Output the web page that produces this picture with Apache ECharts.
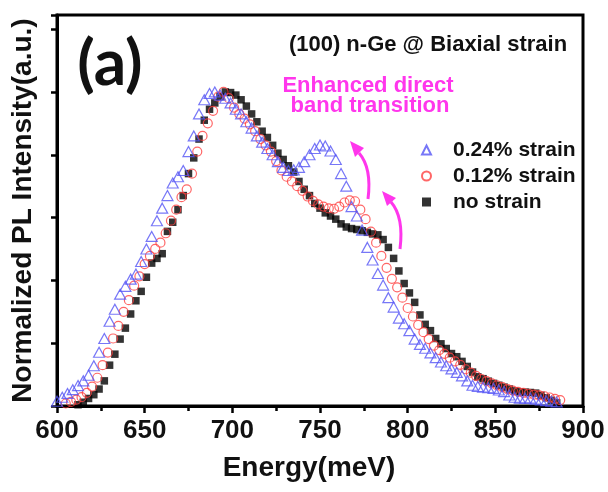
<!DOCTYPE html>
<html>
<head>
<meta charset="utf-8">
<script src="https://cdn.jsdelivr.net/npm/echarts@6/dist/echarts.min.js"></script>
<style>
html,body{margin:0;padding:0;background:#fff;}
#chart{width:608px;height:492px;}
</style>
</head>
<body>
<div id="chart"></div>
<script>
// ---------- data (Energy in meV, normalized PL intensity) ----------
var xTicks = [600, 650, 700, 750, 800, 850, 900];
var seriesNames = ['0.24% strain', '0.12% strain', 'no strain'];

var energyNoStrain = [612,615,618,621,624,627,630,633,636,639,642,645,648,651,654,657,660,663,666,669,672,675,678,681,684,687,690,693,696,699,702,705,708,711,714,717,720,723,726,729,732,735,738,741,744,747,750,753,756,759,762,765,768,771,774,777,780,783,786,789,792,795,798,801,804,807,810,813,816,819,822,825,828,831,834,837,840,843,846,849,852,855,858,861,864,867,870,873,876,879,882,885];
var intensityNoStrain = [0.004,0.012,0.024,0.036,0.054,0.08,0.13,0.165,0.213,0.248,0.293,0.335,0.365,0.41,0.455,0.47,0.485,0.556,0.585,0.625,0.67,0.74,0.79,0.85,0.91,0.945,0.965,0.985,1.0,0.998,0.99,0.975,0.955,0.93,0.905,0.875,0.855,0.83,0.805,0.785,0.765,0.745,0.715,0.69,0.67,0.645,0.63,0.615,0.605,0.595,0.58,0.57,0.565,0.562,0.558,0.553,0.548,0.545,0.53,0.505,0.47,0.43,0.39,0.36,0.33,0.29,0.26,0.24,0.215,0.198,0.183,0.167,0.157,0.142,0.126,0.108,0.093,0.087,0.079,0.072,0.066,0.06,0.054,0.048,0.045,0.044,0.043,0.041,0.034,0.026,0.018,0.01];

var energy012 = [605,608,611,614,617,620,623,626,629,632,635,638,641,644,647,650,653,656,659,662,665,668,671,674,677,680,683,686,689,692,695,698,701,704,707,710,713,716,719,722,725,728,731,734,737,740,743,746,749,752,755,758,761,764,767,770,773,776,779,782,785,788,791,794,797,800,803,806,809,812,815,818,821,824,827,830,833,836,839,842,845,848,851,854,857,860,863,866,869,872,875,878,881,884,887];
var intensity012 = [0.008,0.013,0.02,0.028,0.042,0.062,0.09,0.13,0.17,0.215,0.255,0.3,0.337,0.383,0.413,0.452,0.478,0.5,0.52,0.55,0.59,0.625,0.665,0.69,0.74,0.81,0.86,0.9,0.94,0.985,1.0,0.98,0.95,0.93,0.915,0.897,0.875,0.85,0.83,0.81,0.78,0.75,0.73,0.715,0.7,0.685,0.667,0.653,0.642,0.635,0.629,0.628,0.635,0.648,0.655,0.652,0.625,0.595,0.555,0.52,0.478,0.44,0.405,0.378,0.345,0.312,0.285,0.258,0.235,0.213,0.192,0.178,0.166,0.154,0.142,0.131,0.117,0.106,0.096,0.086,0.079,0.072,0.066,0.06,0.054,0.049,0.045,0.042,0.039,0.036,0.034,0.031,0.027,0.023,0.019];

var energy024 = [600,603,606,609,612,615,618,621,624,627,630,633,636,639,642,645,648,651,654,657,660,663,666,669,672,675,678,681,684,687,690,693,696,699,702,705,708,711,714,717,720,723,726,729,732,735,738,741,744,747,750,753,756,759,762,765,768,771,774,777,780,783,786,789,792,795,798,801,804,807,810,813,816,819,822,825,828,831,834,837,840,843,846,849,852,855,858,861,864,867,870,873,876,879,882,885];
var intensity024 = [0.015,0.028,0.04,0.052,0.065,0.08,0.098,0.128,0.171,0.215,0.27,0.308,0.356,0.381,0.404,0.42,0.46,0.5,0.54,0.59,0.63,0.67,0.71,0.73,0.75,0.81,0.86,0.93,0.975,0.995,1.0,0.99,0.98,0.965,0.945,0.93,0.905,0.885,0.86,0.84,0.82,0.8,0.778,0.76,0.75,0.752,0.76,0.778,0.8,0.82,0.831,0.828,0.812,0.785,0.74,0.7,0.635,0.605,0.56,0.505,0.465,0.422,0.385,0.345,0.315,0.28,0.262,0.24,0.213,0.196,0.184,0.169,0.154,0.14,0.128,0.118,0.107,0.096,0.08,0.066,0.062,0.06,0.058,0.056,0.051,0.046,0.035,0.028,0.025,0.025,0.025,0.022,0.019,0.017,0.015,0.013];

function zip(xs, ys){ var out=[]; for(var i=0;i<xs.length;i++){ out.push([xs[i], ys[i]]); } return out; }

var chart = echarts.init(document.getElementById('chart'), null, {renderer:'canvas'});
var F = '"Liberation Sans", Arial, sans-serif';
var MAG = '#ff36ec';

var option = {
  animation: false,
  backgroundColor: '#ffffff',
  grid: { left: 57, right: 25, top: 15, bottom: 86, show: true, borderColor: '#000', borderWidth: 3, backgroundColor: 'transparent' },
  xAxis: {
    type: 'value', min: xTicks[0], max: xTicks[xTicks.length-1], interval: 50,
    name: 'Energy(meV)', nameLocation: 'middle', nameGap: 48,
    nameTextStyle: { fontFamily: F, fontWeight: 'bold', fontSize: 28, color: '#111', padding: [0, 22, 0, 0] },
    axisLine: { lineStyle: { color: '#000', width: 3 } },
    axisTick: { show: true, inside: false, length: 7, lineStyle: { color: '#000', width: 2.5 } },
    minorTick: { show: true, splitNumber: 2, length: 5, lineStyle: { color: '#000', width: 2.5 } },
    axisLabel: { fontFamily: F, fontWeight: 'bold', fontSize: 26, color: '#111', margin: 12 },
    splitLine: { show: false }
  },
  yAxis: {
    type: 'value', min: 0, max: 1.245, interval: 0.2,
    name: 'Normalized PL Intensity(a.u.)', nameLocation: 'middle', nameGap: 20,
    nameTextStyle: { fontFamily: F, fontWeight: 'bold', fontSize: 28, color: '#111' },
    axisLine: { lineStyle: { color: '#000', width: 3 } },
    axisTick: { show: true, inside: false, length: 6, lineStyle: { color: '#000', width: 2.5 } },
    axisLabel: { show: false },
    splitLine: { show: false }
  },
  legend: {
    orient: 'vertical', left: 416, top: 132, itemGap: 0,
    itemWidth: 9, itemHeight: 9,
    data: seriesNames,
    textStyle: { fontFamily: F, fontWeight: 'bold', fontSize: 21, color: '#111', lineHeight: 26, padding: [0, 0, 0, 17] }
  },
  series: [
    { name: seriesNames[2], type: 'scatter', symbol: 'rect', symbolSize: 7.5, z: 2,
      itemStyle: { color: '#000' }, data: zip(energyNoStrain, intensityNoStrain) },
    { name: seriesNames[1], type: 'scatter', symbol: 'circle', symbolSize: 9, z: 3,
      itemStyle: { color: 'rgba(255,255,255,0)', borderColor: '#ff4040', borderWidth: 1.2 }, data: zip(energy012, intensity012) },
    { name: seriesNames[0], type: 'scatter', symbol: 'triangle', symbolSize: [11, 10], z: 4,
      itemStyle: { color: 'rgba(255,255,255,0)', borderColor: '#5555f5', borderWidth: 1.2 }, data: zip(energy024, intensity024) }
  ],
  graphic: [
    { type: 'text', x: 110, y: 64, z: 10, style: { text: '(a)', font: 'bold 64px Lato, "Open Sans", sans-serif', fill: '#111', textAlign: 'center', textVerticalAlign: 'middle' } },
    { type: 'text', x: 428, y: 45, z: 10, style: { text: '(100) n-Ge @ Biaxial strain', font: 'bold 22px ' + F, fill: '#111', textAlign: 'center', textVerticalAlign: 'middle' } },
    { type: 'text', x: 368, y: 86, z: 10, style: { text: 'Enhanced direct', font: 'bold 22px ' + F, fill: MAG, textAlign: 'center', textVerticalAlign: 'middle' } },
    { type: 'text', x: 370, y: 106, z: 10, style: { text: 'band transition', font: 'bold 22px ' + F, fill: MAG, textAlign: 'center', textVerticalAlign: 'middle' } },
    { type: 'bezierCurve', z: 10, shape: { x1: 368, y1: 199, cpx1: 372, cpy1: 168, x2: 359, y2: 153 }, style: { stroke: MAG, lineWidth: 3, fill: null } },
    { type: 'polygon', z: 10, shape: { points: [[350, 141], [364, 148], [355, 157]] }, style: { fill: MAG } },
    { type: 'bezierCurve', z: 10, shape: { x1: 400, y1: 249, cpx1: 404, cpy1: 217, x2: 391, y2: 202 }, style: { stroke: MAG, lineWidth: 3, fill: null } },
    { type: 'polygon', z: 10, shape: { points: [[382, 191], [396, 198], [387, 206]] }, style: { fill: MAG } }
  ]
};
chart.setOption(option);
</script>
</body>
</html>
